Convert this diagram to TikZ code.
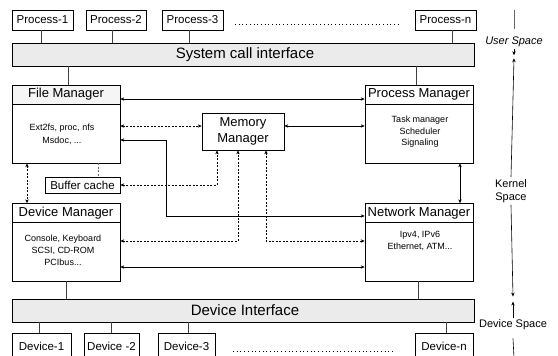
\documentclass[tikz,border=0pt]{standalone}
\usepackage{fontspec}
\setmainfont{Liberation Sans}
\usetikzlibrary{arrows.meta}
\begin{document}
\begin{tikzpicture}[x=1pt,y=-1pt,
  line width=0.6pt,
  tip/.tip={Stealth[length=4pt,width=3.4pt]},
  box/.style={draw, line width=0.6pt, inner sep=0pt, fill=white},
  small/.style={box, minimum height=20, font=\fontsize{11.5}{13}\selectfont},
  devbox/.style={box, minimum height=27, text depth=0pt, font=\fontsize{11.5}{13}\selectfont},
  bar/.style={box, fill=black!8, minimum width=462, minimum height=23, font=\fontsize{15}{17}\selectfont},
  hdr/.style={box, minimum width=108, minimum height=19, font=\fontsize{13}{15}\selectfont},
  hdrtint/.style={hdr, fill=black!4},
  body/.style={box, minimum width=108, minimum height=59},
  bodytext/.style={align=center, inner sep=0pt, font=\fontsize{9}{12}\selectfont},
  side/.style={inner sep=2pt, font=\fontsize{11}{13}\selectfont, align=center},
  link/.style={black!75},
  dsh/.style={dash pattern=on 2pt off 1.5pt},
  both/.style={{tip}-{tip}},
  dotrow/.style={line width=1pt, dash pattern=on 0.9pt off 2.8pt}
]
\useasboundingbox (0,0) rectangle (558,356);

% user processes
\node[small, minimum width=61] (p1) at (42.5,20) {Process-1};
\node[small, minimum width=60] (p2) at (116,20) {Process-2};
\node[small, minimum width=61] (p3) at (192.5,20) {Process-3};
\node[small, minimum width=61] (pn) at (445.5,20) {Process-n};
\coordinate (pdl) at (235,24);
\coordinate (pdr) at (400,24);
\draw[dotrow] (pdl) -- (pdr);

% system call interface
\node[bar] (sci) at (243,54.5) {\hspace*{4pt}System call interface};

% kernel subsystems
\node[hdrtint] (fmh) at (66,94.5) {File Manager};
\node[body] (fmb) at (66,133.5) {};
\node[bodytext, font=\fontsize{9}{13}\selectfont] (fmt) at (62,134) {Ext2fs, proc, nfs\\Msdoc, ...};

\node[hdr] (pmh) at (419,94.5) {Process Manager};
\node[body] (pmb) at (419,133.5) {};
\node[bodytext, font=\fontsize{9}{11.5}\selectfont] (pmt) at (420,132) {Task manager\\Scheduler\\Signaling};

\node[box, minimum width=82, minimum height=37, align=center,
      font=\fontsize{13}{16}\selectfont] (mm) at (243,131.5) {Memory\\Manager};

\node[box, minimum width=75, minimum height=16, font=\fontsize{11.5}{13}\selectfont] (bc) at (82.5,185) {Buffer cache};

\node[hdr] (dmh) at (66,213) {Device Manager};
\node[body] (dmb) at (66,251.5) {};
\node[bodytext] (dmt) at (63,250) {Console, Keyboard\\SCSI, CD-ROM\\PCIbus...};

\node[hdr] (nmh) at (419,213) {Network Manager};
\node[body] (nmb) at (419,251.5) {};
\node[bodytext] (nmt) at (420,241) {Ipv4, IPv6\\Ethernet, ATM...};

% device interface
\node[bar] (di) at (243,310.5) {\hspace*{4pt}Device Interface};

% devices
\node[devbox, minimum width=59] (d1) at (41.5,346.5) {Device-1};
\node[devbox, minimum width=55] (d2) at (111.5,346.5) {Device -2};
\node[devbox, minimum width=57] (d3) at (186.5,346.5) {Device-3};
\node[devbox, minimum width=58] (dn) at (444,346.5) {Device-n};
\coordinate (ddl) at (233,351);
\coordinate (ddr) at (395,351);
\draw[dotrow] (ddl) -- (ddr);

% plain links to the interfaces
\draw[link] ([xshift=-1.5pt]p1.south) -- ([xshift=-1.5pt]p1.south |- sci.north);
\draw[link] ([xshift=-4pt]p2.south) -- ([xshift=-4pt]p2.south |- sci.north);
\draw[link] ([xshift=-3.5pt]p3.south) -- ([xshift=-3.5pt]p3.south |- sci.north);
\draw[link] ([xshift=6.5pt]pn.south) -- ([xshift=6.5pt]pn.south |- sci.north);
\draw[link] ([xshift=2pt]fmh.north) -- ([xshift=2pt]fmh.north |- sci.south);
\draw[link] ([xshift=-3pt]pmh.north) -- ([xshift=-3pt]pmh.north |- sci.south);
\draw[link] (dmb.south) -- (dmb.south |- di.north);
\draw[link] ([xshift=-1pt]nmb.south) -- ([xshift=-1pt]nmb.south |- di.north);
\draw[link] ([xshift=-2.5pt]d1.north) -- ([xshift=-2.5pt]d1.north |- di.south);
\draw[link] ([xshift=-0.5pt]d2.north) -- ([xshift=-0.5pt]d2.north |- di.south);
\draw[link] ([xshift=1.5pt]d3.north) -- ([xshift=1.5pt]d3.north |- di.south);
\draw[link] ([xshift=2pt]dn.north) -- ([xshift=2pt]dn.north |- di.south);

% links between kernel subsystems
\draw[both] ([yshift=-4.5pt]fmh.east) -- ([yshift=-4.5pt]pmh.west);
\draw[both, dsh] ([yshift=5.5pt]mm.west -| fmb.east) -- ([yshift=5.5pt]mm.west);
\draw[both] ([yshift=5.5pt]mm.east) -- ([yshift=5.5pt]mm.east -| pmb.west);
\draw[both] ([yshift=-6.5pt]fmb.east) -- ++(46,0) |- ([yshift=-3pt]nmh.west);
\draw[both, dsh] (bc.east) -| ([xshift=-26pt]mm.south);
\draw[both, dsh] ([yshift=10.5pt]dmb.east) -| ([xshift=-5pt]mm.south);
\draw[both, dsh] ([xshift=23pt]mm.south) |- ([yshift=10.5pt]nmb.west);
\draw[both] ([yshift=-15.5pt]dmb.east) -- ([yshift=-15.5pt]nmb.west);
\draw[both, dsh] ([xshift=-39pt]fmb.south) -- ([xshift=-39pt]dmh.north);
\draw[both] ([xshift=41pt]pmb.south) -- ([xshift=41pt]nmh.north);
\draw[black!60, dsh] ([xshift=15.5pt]bc.north |- fmb.south) -- ([xshift=15.5pt]bc.north);

% address space scale
\node[side, font=\itshape\fontsize{11}{13}\selectfont] (us) at (514,42) {User Space};
\node[side] (ks) at (511,191) {Kernel\\Space};
\node[side] (ds) at (513,325) {Device Space};
\coordinate (top) at (514,10);
\coordinate (bot) at (514,358);
\draw[black!60] (top) -- ([yshift=6pt]us.north);
\draw[-tip] (us.south) -- ([yshift=-6pt]us.south);
\draw[-tip] (ks.north) -- ([yshift=-9pt]us.south);
\draw[-tip] (ks.south) -- ([yshift=21pt]ds.north);
\draw[-tip] (ds.north) -- ([yshift=16pt]ds.north);
\draw ([yshift=-6pt]ds.south) -- (bot);
\end{tikzpicture}
\end{document}
